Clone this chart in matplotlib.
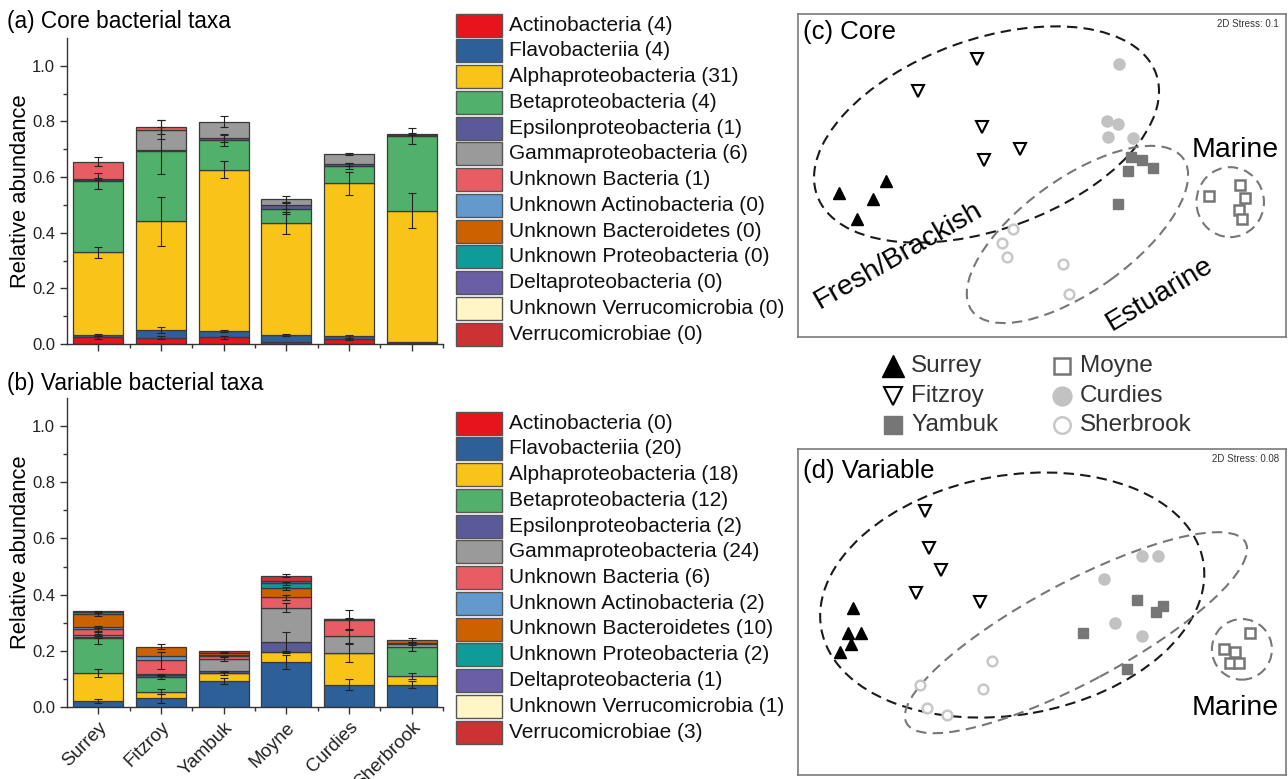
import matplotlib
matplotlib.use("Agg")
import matplotlib.pyplot as plt
from matplotlib.patches import Ellipse, Rectangle
import numpy as np

plt.rcParams["font.family"] = ["Liberation Sans", "DejaVu Sans"]

W, H = 1288, 779

sites = ["Surrey", "Fitzroy", "Yambuk", "Moyne", "Curdies", "Sherbrook"]

taxa = ["Actinobacteria", "Flavobacteriia", "Alphaproteobacteria",
        "Betaproteobacteria", "Epsilonproteobacteria", "Gammaproteobacteria",
        "Unknown Bacteria", "Unknown Actinobacteria", "Unknown Bacteroidetes",
        "Unknown Proteobacteria", "Deltaproteobacteria",
        "Unknown Verrucomicrobia", "Verrucomicrobiae"]

taxa_colors = ["#e8141b", "#2d5f99", "#f8c418", "#51b16c", "#5b5a98",
               "#9a9a9a", "#e85d64", "#6399cd", "#cc6100", "#0f9b98",
               "#6a5fa6", "#fff5c6", "#cc3233"]

core_counts = [4, 4, 31, 4, 1, 6, 1, 0, 0, 0, 0, 0, 0]
var_counts = [0, 20, 18, 12, 2, 24, 6, 2, 10, 2, 1, 1, 3]

# mean relative abundance, one row per taxon, columns follow `sites`
core_abund = [
    [0.024, 0.023, 0.024, 0.007, 0.018, 0.002],
    [0.009, 0.028, 0.023, 0.025, 0.009, 0.005],
    [0.297, 0.390, 0.580, 0.404, 0.550, 0.472],
    [0.255, 0.254, 0.105, 0.050, 0.063, 0.269],
    [0.003, 0.002, 0.009, 0.012, 0.006, 0.003],
    [0.005, 0.074, 0.058, 0.024, 0.037, 0.005],
    [0.063, 0.010, 0.000, 0.000, 0.000, 0.000],
    [0, 0, 0, 0, 0, 0],
    [0, 0, 0, 0, 0, 0],
    [0, 0, 0, 0, 0, 0],
    [0, 0, 0, 0, 0, 0],
    [0, 0, 0, 0, 0, 0],
    [0, 0, 0, 0, 0, 0],
]
core_err = [
    [0.006, 0.006, 0.005, 0.000, 0.005, 0.000],
    [0.003, 0.010, 0.004, 0.004, 0.004, 0.000],
    [0.020, 0.088, 0.030, 0.040, 0.040, 0.063],
    [0.028, 0.084, 0.020, 0.020, 0.012, 0.030],
    [0.000, 0.000, 0.015, 0.012, 0.005, 0.000],
    [0.004, 0.035, 0.020, 0.010, 0.003, 0.003],
    [0.017, 0.025, 0.000, 0.000, 0.000, 0.000],
    [0, 0, 0, 0, 0, 0],
    [0, 0, 0, 0, 0, 0],
    [0, 0, 0, 0, 0, 0],
    [0, 0, 0, 0, 0, 0],
    [0, 0, 0, 0, 0, 0],
    [0, 0, 0, 0, 0, 0],
]

var_abund = [
    [0.000, 0.000, 0.000, 0.000, 0.000, 0.000],
    [0.021, 0.031, 0.093, 0.160, 0.080, 0.080],
    [0.099, 0.024, 0.027, 0.035, 0.111, 0.030],
    [0.126, 0.052, 0.002, 0.000, 0.003, 0.105],
    [0.003, 0.006, 0.005, 0.037, 0.000, 0.000],
    [0.006, 0.003, 0.043, 0.122, 0.058, 0.009],
    [0.022, 0.050, 0.010, 0.036, 0.058, 0.003],
    [0.008, 0.015, 0.004, 0.000, 0.000, 0.000],
    [0.046, 0.034, 0.010, 0.033, 0.003, 0.012],
    [0.007, 0.000, 0.000, 0.017, 0.000, 0.000],
    [0.003, 0.000, 0.000, 0.007, 0.000, 0.000],
    [0.000, 0.000, 0.000, 0.000, 0.000, 0.000],
    [0.000, 0.000, 0.004, 0.021, 0.002, 0.000],
]
var_err = [
    [0, 0, 0, 0, 0, 0],
    [0.008, 0.015, 0.012, 0.025, 0.018, 0.014],
    [0.014, 0.010, 0.006, 0.003, 0.032, 0.012],
    [0.020, 0.008, 0.000, 0.000, 0.000, 0.015],
    [0.003, 0.003, 0.002, 0.035, 0.000, 0.000],
    [0.004, 0.000, 0.008, 0.015, 0.025, 0.004],
    [0.006, 0.030, 0.003, 0.010, 0.035, 0.000],
    [0.005, 0.000, 0.000, 0.000, 0.000, 0.000],
    [0.006, 0.010, 0.003, 0.005, 0.000, 0.006],
    [0.003, 0.000, 0.000, 0.005, 0.000, 0.000],
    [0, 0, 0, 0, 0, 0],
    [0, 0, 0, 0, 0, 0],
    [0.000, 0.000, 0.000, 0.005, 0.002, 0.000],
]

# NMDS ordination scores per site
core_x = {
    "Surrey": [-1.248, -1.135, -1.038, -0.960],
    "Fitzroy": [-0.402, -0.761, -0.367, -0.355, -0.135],
    "Yambuk": [0.546, 0.614, 0.531, 0.685, 0.470],
    "Moyne": [1.024, 1.215, 1.250, 1.209, 1.229],
    "Curdies": [0.474, 0.398, 0.466, 0.404, 0.562],
    "Sherbrook": [-0.176, -0.244, -0.213, 0.131, 0.168],
}
core_y = {
    "Surrey": [-0.109, -0.272, -0.144, -0.037],
    "Fitzroy": [0.722, 0.526, 0.299, 0.097, 0.165],
    "Yambuk": [0.113, 0.097, 0.027, 0.047, -0.179],
    "Moyne": [-0.124, -0.058, -0.138, -0.216, -0.272],
    "Curdies": [0.691, 0.340, 0.316, 0.241, 0.231],
    "Sherbrook": [-0.334, -0.416, -0.505, -0.546, -0.736],
}
var_x = {
    "Surrey": [-1.161, -1.192, -1.114, -1.172, -1.243],
    "Fitzroy": [-0.720, -0.694, -0.622, -0.772, -0.382],
    "Yambuk": [0.583, 0.702, 0.743, 0.254, 0.521],
    "Moyne": [1.276, 1.120, 1.188, 1.157, 1.213],
    "Curdies": [0.614, 0.716, 0.384, 0.449, 0.614],
    "Sherbrook": [-0.306, -0.751, -0.361, -0.710, -0.581],
}
var_y = {
    "Surrey": [0.023, -0.131, -0.131, -0.196, -0.243],
    "Fitzroy": [0.622, 0.391, 0.258, 0.119, 0.063],
    "Yambuk": [0.074, 0.002, 0.037, -0.131, -0.352],
    "Moyne": [-0.127, -0.229, -0.247, -0.311, -0.311],
    "Curdies": [0.346, 0.344, 0.202, -0.065, -0.145],
    "Sherbrook": [-0.301, -0.448, -0.474, -0.587, -0.632],
}

# group ellipses: (centre x, centre y, width, height, angle, colour)
core_groups = [(-0.341, 0.254, 2.216, 1.175, 20, "#1a1a1a"),
               (0.218, -0.365, 1.605, 0.693, 36, "#777777"),
               (1.157, -0.165, 0.415, 0.433, 0, "#777777")]
var_groups = [(-0.183, 0.104, 2.384, 1.468, 10, "#1a1a1a"),
              (0.209, -0.127, 2.360, 0.614, 28, "#777777"),
              (1.229, -0.229, 0.369, 0.372, 0, "#777777")]

site_style = {
    "Surrey": dict(marker="^", mfc="black", mec="black", mew=1.0, ms=9),
    "Fitzroy": dict(marker="v", mfc="white", mec="black", mew=1.5, ms=8),
    "Yambuk": dict(marker="s", mfc="#767676", mec="#767676", mew=1.0, ms=7.5),
    "Moyne": dict(marker="s", mfc="white", mec="#767676", mew=1.8, ms=7),
    "Curdies": dict(marker="o", mfc="#c2c2c2", mec="#c2c2c2", mew=1.0, ms=8),
    "Sherbrook": dict(marker="o", mfc="white", mec="#c8c8c8", mew=1.8, ms=7),
}


def fig_rect(left, top, right, bottom):
    return [left / W, 1 - bottom / H, (right - left) / W, (bottom - top) / H]


fig = plt.figure(figsize=(W / 100, H / 100), dpi=100)


def stacked(ax, abund, err, show_names):
    x = np.arange(len(sites))
    bottom = np.zeros(len(sites))
    for vals, errs, col in zip(abund, err, taxa_colors):
        vals = np.array(vals, dtype=float)
        errs = np.array(errs, dtype=float)
        keep = vals > 0
        ax.bar(x[keep], vals[keep], 0.8, bottom=bottom[keep], color=col,
               edgecolor="#3a3a3a", linewidth=0.9, zorder=2)
        top = bottom + vals
        show = keep & (errs > 0)
        if show.any():
            ax.errorbar(x[show], top[show], yerr=errs[show], fmt="none",
                        ecolor="#222222", elinewidth=0.8, capsize=3,
                        capthick=0.8, zorder=3)
        bottom = top
    ax.set_xlim(-0.5, 5.5)
    ax.set_ylim(0, 1.1)
    ax.set_yticks(np.arange(0, 1.01, 0.2))
    ax.set_yticks(np.arange(0.1, 1.1, 0.2), minor=True)
    ax.set_xticks(x)
    ax.set_xticks(np.arange(0.5, 5.6, 1), minor=True)
    ax.yaxis.set_major_formatter(plt.FormatStrFormatter("%.1f"))
    for s in ["top", "right"]:
        ax.spines[s].set_visible(False)
    for s in ["left", "bottom"]:
        ax.spines[s].set_color("#333333")
        ax.spines[s].set_linewidth(1.0)
    ax.tick_params(which="major", direction="out", length=5, width=1,
                   color="#333333", labelsize=12, labelcolor="#222222")
    ax.tick_params(which="minor", direction="out", length=3, width=1,
                   color="#333333")
    if show_names:
        ax.set_xticklabels(sites, rotation=45, ha="right",
                           rotation_mode="anchor", fontsize=13.5)
    else:
        ax.set_xticklabels([])
    ax.set_ylabel("Relative abundance", fontsize=15.8, labelpad=1)


ax_a = fig.add_axes(fig_rect(67, 38, 443, 344))
stacked(ax_a, core_abund, core_err, False)
ax_b = fig.add_axes(fig_rect(67, 398, 443, 707))
stacked(ax_b, var_abund, var_err, True)

fig.text(7 / W, 1 - 28 / H, "(a) Core bacterial taxa", fontsize=16.3,
         va="baseline")
fig.text(7 / W, 1 - 390 / H, "(b) Variable bacterial taxa", fontsize=16.3,
         va="baseline")


def nmds(ax, xs, ys, groups, label, stress, texts):
    for cx, cy, w, h, ang, col in groups:
        ax.add_patch(Ellipse((cx, cy), w, h, angle=ang, fill=False,
                             edgecolor=col, linewidth=1.5,
                             linestyle=(0, (5, 3))))
    for site in sites:
        ax.plot(xs[site], ys[site], linestyle="none", **site_style[site])
    ax.set_xlim(-1.5, 1.5)
    ax.set_ylim(-1, 1)
    ax.set_xticks([])
    ax.set_yticks([])
    for s in ax.spines.values():
        s.set_color("#7a7a7a")
        s.set_linewidth(1.2)
    ax.text(0.010, label[1], label[0], transform=ax.transAxes, fontsize=18.5,
            va="top", ha="left")
    ax.text(0.985, 0.985, stress, transform=ax.transAxes, fontsize=7,
            va="top", ha="right", color="#333333")
    for t, tx, ty, rot in texts:
        ax.text(tx, ty, t, transform=ax.transAxes, fontsize=20.5,
                ha="center", va="center", rotation=rot)


ax_c = fig.add_axes(fig_rect(798, 14, 1286, 337))
nmds(ax_c, core_x, core_y, core_groups, ("(c) Core", 0.98),
     "2D Stress: 0.1",
     [("Marine", 0.896, 0.579, 0), ("Fresh/Brackish", 0.205, 0.253, 30),
      ("Estuarine", 0.741, 0.134, 31)])

ax_d = fig.add_axes(fig_rect(798, 449, 1286, 775))
nmds(ax_d, var_x, var_y, var_groups, ("(d) Variable", 0.97),
     "2D Stress: 0.08", [("Marine", 0.896, 0.204, 0)])

# overlay in pixel units for the hand-placed legends
ov = fig.add_axes([0, 0, 1, 1], zorder=-1)
ov.set_xlim(0, W)
ov.set_ylim(H, 0)
ov.axis("off")

for first_row, counts in [(25, core_counts), (423, var_counts)]:
    for i, (name, col, n) in enumerate(zip(taxa, taxa_colors, counts)):
        yc = first_row + i * 25.75
        ov.add_patch(Rectangle((456, yc - 11.5), 46, 23, facecolor=col,
                               edgecolor="#555555", linewidth=1.0))
        ov.text(509, yc, f"{name} ({n})", fontsize=15, va="center",
                ha="left", color="#111111")

leg_cols = [(893, sites[:3]), (1062, sites[3:])]
for mx, names in leg_cols:
    for j, site in enumerate(names):
        yc = 366 + j * 29.5
        st = dict(site_style[site])
        st["ms"] = st["ms"] * 1.7
        ov.plot([mx], [yc], linestyle="none", **st)
        ov.text(mx + 18, yc, site, fontsize=17.5, va="center", ha="left",
                color="#333333")

fig.savefig("out.png", dpi=100)
